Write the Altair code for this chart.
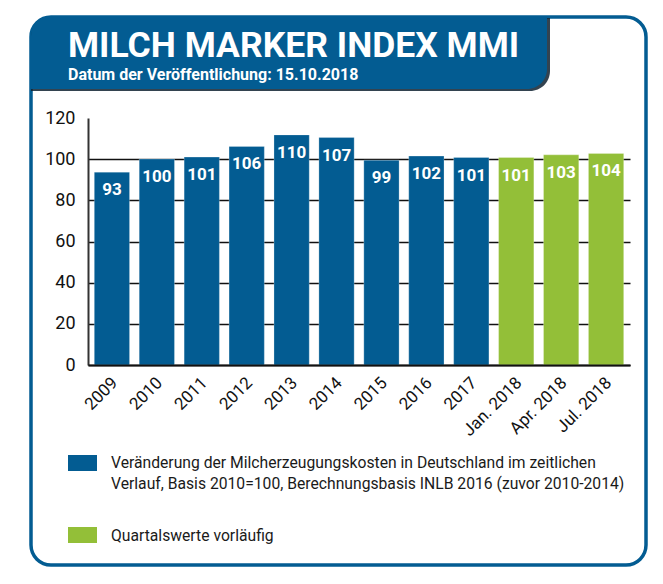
import altair as alt
import pandas as pd

# ---- data ----
categories = ["2009", "2010", "2011", "2012", "2013", "2014", "2015", "2016",
              "2017", "Jan. 2018", "Apr. 2018", "Jul. 2018"]
bar_heights = [93.7, 100.1, 101.0, 106.2, 111.8, 110.5, 99.5, 101.5,
               100.8, 100.8, 102.1, 102.8]
bar_labels = [93, 100, 101, 106, 110, 107, 99, 102, 101, 101, 103, 104]
groups = ["Kosten"] * 9 + ["Quartal"] * 3
group_names = ["Kosten", "Quartal"]
group_colors = ["#035c92", "#93bf38"]
y_ticks = [0, 20, 40, 60, 80, 100, 120]

title_text = "MILCH MARKER INDEX MMI"
subtitle_text = "Datum der Veröffentlichung: 15.10.2018"
legend_lines_1 = ["Veränderung der Milcherzeugungskosten in Deutschland im zeitlichen",
                  "Verlauf, Basis 2010=100, Berechnungsbasis INLB 2016 (zuvor 2010-2014)"]
legend_lines_2 = ["Quartalswerte vorläufig"]

FONT = "Roboto"
BLUE = "#035c92"
W, H = 542, 247

df = pd.DataFrame({"cat": categories, "height": bar_heights,
                   "label": bar_labels, "group": groups})
one = pd.DataFrame({"a": [0]})

# ---- decorations (frame, header, legend) ----
frame = alt.Chart(one).mark_rect(
    fillOpacity=0, stroke=BLUE, strokeWidth=3.5, cornerRadius=20
).encode(x=alt.value(-57), x2=alt.value(558), y=alt.value(-101), y2=alt.value(447))

header_shadow = alt.Chart(one).mark_rect(
    color="#0f2231", cornerRadiusTopLeft=20, cornerRadiusBottomRight=20, opacity=0.85
).encode(x=alt.value(-57), x2=alt.value(462), y=alt.value(-100), y2=alt.value(-27))

header = alt.Chart(one).mark_rect(
    color=BLUE, cornerRadiusTopLeft=20, cornerRadiusBottomRight=20
).encode(x=alt.value(-57), x2=alt.value(459), y=alt.value(-102), y2=alt.value(-29))

title = alt.Chart(one).mark_text(
    align="left", baseline="alphabetic", font=FONT, fontSize=35.5, fontWeight="bold",
    color="white"
).encode(x=alt.value(-20), y=alt.value(-61), text=alt.value(title_text))

subtitle = alt.Chart(one).mark_text(
    align="left", baseline="alphabetic", font=FONT, fontSize=16, fontWeight="bold",
    color="white"
).encode(x=alt.value(-20), y=alt.value(-38), text=alt.value(subtitle_text))

leg_sq1 = alt.Chart(one).mark_rect(color=group_colors[0]).encode(
    x=alt.value(-20), x2=alt.value(9), y=alt.value(337), y2=alt.value(353))
leg_sq2 = alt.Chart(one).mark_rect(color=group_colors[1]).encode(
    x=alt.value(-20), x2=alt.value(9), y=alt.value(409), y2=alt.value(425))

def leg_text(txt, ypos):
    return alt.Chart(one).mark_text(
        align="left", baseline="alphabetic", font=FONT, fontSize=15.7, color="#1a1a1a"
    ).encode(x=alt.value(23), y=alt.value(ypos), text=alt.value(txt))

leg_t1 = leg_text(legend_lines_1[0], 350)
leg_t2 = leg_text(legend_lines_1[1], 371)
leg_t3 = leg_text(legend_lines_2[0], 423)

# ---- data layers ----
x_enc = alt.X("cat:N", sort=categories,
              scale=alt.Scale(paddingInner=0.215, paddingOuter=0.14),
              axis=alt.Axis(title=None, labelAngle=315, labelAlign="right",
                            labelBaseline="middle", labelPadding=15, labelOffset=3,
                            ticks=False, tickSize=0, domainColor="#111",
                            domainWidth=2, labelFont=FONT, labelFontSize=17,
                            labelColor="#111", zindex=1, grid=False))
y_enc = alt.Y("height:Q", scale=alt.Scale(domain=[0, 120], nice=False),
              axis=alt.Axis(title=None, values=y_ticks, grid=True,
                            gridColor="#111", gridWidth=1.5,
                            gridOpacity=alt.condition("datum.value >= 120",
                                                      alt.value(0), alt.value(1)),
                            ticks=False, tickSize=0, labelPadding=13,
                            domainColor="#333", domainWidth=2,
                            labelFont=FONT, labelFontSize=18, labelColor="#111",
                            zindex=0))

bars = alt.Chart(df).mark_bar(stroke="white", strokeOpacity=0.25, strokeWidth=1).encode(
    x=x_enc, y=y_enc,
    color=alt.Color("group:N", scale=alt.Scale(domain=group_names, range=group_colors),
                    legend=None))

labels = alt.Chart(df).mark_text(
    baseline="middle", dy=18, font=FONT, fontSize=17, fontWeight="bold", color="white"
).encode(x=alt.X("cat:N", sort=categories), y="height:Q", text="label:N")

chart = alt.layer(
    frame, header_shadow, header, title, subtitle,
    bars, labels,
    leg_sq1, leg_sq2, leg_t1, leg_t2, leg_t3
).properties(
    width=W, height=H,
    autosize=alt.AutoSizeParams(type="none"),
    padding={"left": 80, "top": 110, "right": 25, "bottom": 205},
).configure_view(stroke=None)

chart.save("out.html", embed_options={"renderer": "svg", "actions": False})
